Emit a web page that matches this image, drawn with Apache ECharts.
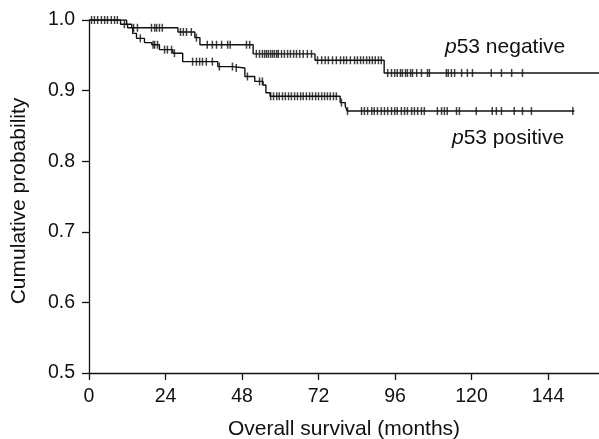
<!DOCTYPE html>
<html>
<head>
<meta charset="utf-8">
<script src="https://cdn.jsdelivr.net/npm/echarts@6/dist/echarts.min.js"></script>
<style>
html, body { margin: 0; padding: 0; background: #fff; }
#main { width: 599px; height: 439px; }
</style>
</head>
<body>
<div id="main"></div>
<script>
// 生存曲线数据 (月, 累计概率)
var negTimes = [0, 11.8, 13.4, 27.9, 33.2, 34.8, 51.5, 70.9, 92.6, 160];
var negSurv = [1.0, 0.994, 0.989, 0.983, 0.975, 0.965, 0.952, 0.943, 0.925, 0.925];
var posTimes = [0, 9.9, 12.1, 13.7, 14.9, 17.4, 19.7, 22.1, 26.3, 29.4, 40.4, 45.1, 48.9, 52.0, 54.6, 55.5, 56.8, 78.8, 80.4, 81.0, 152.3];
var posSurv = [1.0, 0.994, 0.989, 0.981, 0.974, 0.968, 0.965, 0.958, 0.953, 0.941, 0.934, 0.932, 0.920, 0.913, 0.908, 0.897, 0.892, 0.883, 0.878, 0.871, 0.871];

// 删失点
var negCensor = [0.8, 1.7, 2.7, 3.9, 4.9, 5.8, 7.0, 8.0, 8.9,
    14.0, 15.2, 19.6, 20.6, 21.2, 22.1, 23.0,
    28.7, 29.6, 30.6, 32.1, 33.7,
    37.1, 38.7, 40.0, 41.6, 43.5, 44.3, 49.4, 50.4,
    52.5, 53.5, 54.4, 55.1, 55.7, 56.3, 57.0, 57.6, 58.2, 58.9, 59.4, 60.4, 61.3, 62.3, 63.2, 64.2, 65.1, 66.1, 67.2, 68.5, 69.8,
    71.7, 73.0, 74.1, 75.1, 76.4, 77.6, 78.9, 79.9, 80.8, 82.0, 83.3, 84.2, 85.2, 86.1, 87.1, 88.0, 88.9, 89.8, 90.8, 91.7,
    93.7, 94.9, 95.9, 96.7, 97.7, 98.3, 99.3, 99.9, 100.9, 101.5, 102.8, 104.3, 106.2, 106.8, 112.1, 112.7, 113.7, 114.7,
    116.9, 118.7, 120.3, 126.2, 129.4, 132.6, 136.0];
var posCensor = [11.1, 16.1, 20.1, 20.6, 21.5, 23.7, 24.6, 25.9, 26.8,
    32.5, 33.7, 34.7, 35.6, 36.8, 38.7, 40.9, 45.0, 46.2, 49.7, 53.5, 54.4,
    57.0, 57.9, 58.9, 59.7, 60.7, 61.6, 62.6, 63.5, 64.5, 65.4, 66.4, 67.2, 68.2, 69.2, 70.1, 71.1, 72.0, 73.0, 73.9, 74.8, 75.7, 76.7, 77.6,
    79.2, 81.1, 85.5, 86.4, 87.4, 88.7, 89.5, 90.5, 91.7, 92.7, 93.7, 94.9, 95.9, 96.7, 98.0, 99.0, 99.9, 101.2, 102.1, 103.1, 104.3, 105.2,
    109.3, 110.6, 111.5, 112.4, 115.3, 116.2, 121.5, 126.5, 127.8, 129.4, 133.4, 136.0, 138.8, 151.8];

var xTicks = [0, 24, 48, 72, 96, 120, 144];

function pairs(ts, ss) {
    var out = [];
    for (var i = 0; i < ts.length; i++) out.push([ts[i], ss[i]]);
    return out;
}
// 删失点所在的曲线高度
function marks(cs, ts, ss) {
    return cs.map(function (t) {
        var s = ss[0];
        for (var i = 0; i < ts.length; i++) if (ts[i] <= t) s = ss[i];
        return [t, s];
    });
}

var font = 'Liberation Sans, Arial, sans-serif';
var ink = '#111';
var myChart = echarts.init(document.getElementById('main'));

var option = {
    backgroundColor: '#fff',
    animation: false,
    grid: { left: 89, top: 20, right: 0, bottom: 66, outerBoundsMode: 'none' },
    xAxis: {
        type: 'value',
        min: 0,
        max: 160,
        name: 'Overall survival (months)',
        nameLocation: 'middle',
        nameGap: 46,
        nameTextStyle: { color: ink, fontSize: 21, fontFamily: font },
        axisLine: { lineStyle: { color: ink, width: 1.3 } },
        axisTick: { show: true, length: 7, customValues: xTicks, lineStyle: { color: ink, width: 1.3 } },
        axisLabel: { customValues: xTicks, color: ink, fontSize: 19.5, fontFamily: font, margin: 14 },
        splitLine: { show: false }
    },
    yAxis: {
        type: 'value',
        min: 0.5,
        max: 1.0,
        interval: 0.1,
        axisLine: { show: true, lineStyle: { color: ink, width: 1.3 } },
        axisTick: { show: true, length: 7, lineStyle: { color: ink, width: 1.3 } },
        axisLabel: {
            color: ink, fontSize: 19.5, fontFamily: font, margin: 14,
            formatter: function (v) { return v.toFixed(1); }
        },
        splitLine: { show: false }
    },
    graphic: [
        {
            type: 'text', x: 19, y: 201, rotation: Math.PI / 2,
            style: {
                text: 'Cumulative probability',
                font: '21px ' + font,
                fill: ink,
                align: 'center',
                verticalAlign: 'middle'
            }
        },
        {
            type: 'text', left: 445, top: 37,
            style: {
                text: '{i|p}53 negative',
                font: '21px ' + font,
                fill: ink,
                rich: { i: { fontStyle: 'italic', fontSize: 21, fontFamily: font, fill: ink } }
            }
        },
        {
            type: 'text', left: 452, top: 128,
            style: {
                text: '{i|p}53 positive',
                font: '21px ' + font,
                fill: ink,
                rich: { i: { fontStyle: 'italic', fontSize: 21, fontFamily: font, fill: ink } }
            }
        }
    ],
    series: [
        {
            name: 'p53 negative',
            type: 'line',
            step: 'end',
            symbol: 'none',
            lineStyle: { color: ink, width: 1.4 },
            data: pairs(negTimes, negSurv)
        },
        {
            name: 'p53 positive',
            type: 'line',
            step: 'end',
            symbol: 'none',
            lineStyle: { color: ink, width: 1.4 },
            data: pairs(posTimes, posSurv)
        },
        {
            type: 'scatter',
            symbol: 'rect',
            symbolSize: [1.5, 8],
            itemStyle: { color: ink },
            clip: false,
            data: marks(negCensor, negTimes, negSurv)
        },
        {
            type: 'scatter',
            symbol: 'rect',
            symbolSize: [1.5, 8],
            itemStyle: { color: ink },
            clip: false,
            data: marks(posCensor, posTimes, posSurv)
        }
    ]
};

myChart.setOption(option);
</script>
</body>
</html>
